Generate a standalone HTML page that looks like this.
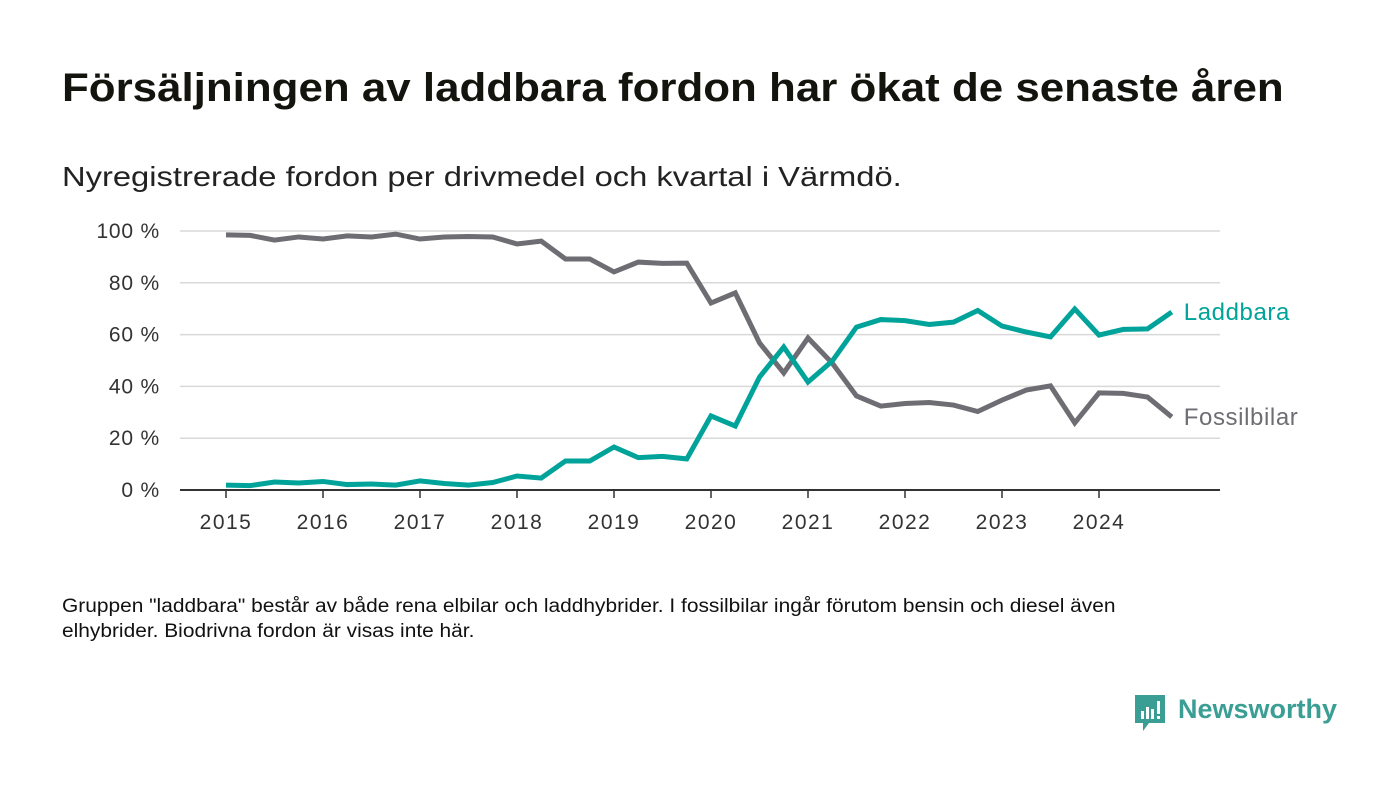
<!DOCTYPE html>
<html><head><meta charset="utf-8"><style>
body{margin:0;width:1400px;height:793px;background:#fff;font-family:"Liberation Sans","DejaVu Sans",sans-serif;color:#111;position:relative;overflow:hidden}
.t{position:absolute;white-space:nowrap;transform-origin:0 0}
</style></head><body>
<div class="t" style="left:62px;top:66px;font-size:40px;font-weight:bold;color:#14140f;transform:scaleX(1.097)">Försäljningen av laddbara fordon har ökat de senaste åren</div>
<div class="t" style="left:62px;top:161px;font-size:28px;color:#222;transform:scaleX(1.168)">Nyregistrerade fordon per drivmedel och kvartal i Värmdö.</div>
<svg id="chart" width="1400" height="560" style="position:absolute;left:0;top:0"></svg>
<div class="t" style="left:62px;top:594px;font-size:19px;line-height:25px;color:#111;transform:scaleX(1.10)">Gruppen "laddbara" består av både rena elbilar och laddhybrider. I fossilbilar ingår förutom bensin och diesel även<br>elhybrider. Biodrivna fordon är visas inte här.</div>
<div style="position:absolute;left:1133px;top:693px;height:40px">
<svg width="34" height="40" style="position:absolute;left:0;top:0"><path d="M2 2h30v28H16l-6 8v-8H2z" fill="#3a9e94"/><rect x="8" y="18" width="3" height="8" fill="#fff"/><rect x="13" y="14" width="3" height="12" fill="#fff"/><rect x="18" y="16" width="3" height="10" fill="#fff"/><rect x="24" y="8" width="3" height="13" fill="#fff"/><rect x="24" y="23" width="3" height="3" fill="#fff"/></svg>
<span class="t" style="left:45px;top:1px;font-size:27px;font-weight:bold;color:#3a9e94">Newsworthy</span></div>
<script>
const yearLabels=["2015","2016","2017","2018","2019","2020","2021","2022","2023","2024"];
const yTicks=[0,20,40,60,80,100];
const fossil=[98.5,98.3,96.5,97.7,96.9,98.1,97.7,98.8,96.9,97.7,97.9,97.7,95.0,96.1,89.2,89.2,84.2,88.0,87.5,87.6,72.2,76.1,56.8,45.2,58.7,49.0,36.3,32.4,33.4,33.8,32.8,30.3,34.7,38.6,40.2,25.9,37.5,37.3,35.9,28.2];
const laddbara=[1.9,1.7,3.1,2.7,3.3,2.1,2.3,1.9,3.5,2.5,1.9,2.9,5.4,4.6,11.2,11.2,16.6,12.5,13.0,12.0,28.6,24.7,43.6,55.2,41.7,49.8,62.9,65.8,65.4,63.9,64.8,69.3,63.3,61.0,59.1,69.9,59.8,62.0,62.2,68.7];
const svg=document.getElementById('chart');const NS='http://www.w3.org/2000/svg';
const x=i=>226+i*24.25, y=v=>490-v*2.59;
function mk(t,a){const e=document.createElementNS(NS,t);for(const k in a)e.setAttribute(k,a[k]);svg.appendChild(e);return e;}
yTicks.forEach(v=>{
 if(v>0){const g=mk('line',{x1:180,x2:1220,y1:y(v),y2:y(v),stroke:'#d9d9d9','stroke-width':1.5});
 
 }
 const t=mk('text',{x:160,y:y(v)+7,'text-anchor':'end','font-size':21,fill:'#333','font-family':'Liberation Sans, sans-serif','letter-spacing':'0.8'});t.textContent=v+' %';
 
 
});
const ax=mk('line',{x1:180,x2:1220,y1:490,y2:490,stroke:'#333','stroke-width':2});


yearLabels.forEach((l,i)=>{const xx=x(i*4);
 mk('line',{x1:xx,x2:xx,y1:490,y2:498,stroke:'#333','stroke-width':1.5});
 const t=mk('text',{x:xx,y:529,'text-anchor':'middle','font-size':21,fill:'#333','font-family':'Liberation Sans, sans-serif','letter-spacing':'1.5'});t.textContent=l;
 
 });
function line(d,c,name,label){
 const p=mk('polyline',{points:d.map((v,i)=>x(i)+','+y(v)).join(' '),fill:'none',stroke:c,'stroke-width':5,'stroke-linejoin':'miter'});
 
 
 const t=mk('text',{x:x(d.length-1)+12,y:y(d[d.length-1])+8,'font-size':24,fill:c,'font-family':'Liberation Sans, sans-serif','letter-spacing':'0.6'});t.textContent=label;
 
 
}
line(fossil,'#6e6d73','fossilbilar-line','Fossilbilar');
line(laddbara,'#00a39a','laddbara-line','Laddbara');
</script>
</body></html>
